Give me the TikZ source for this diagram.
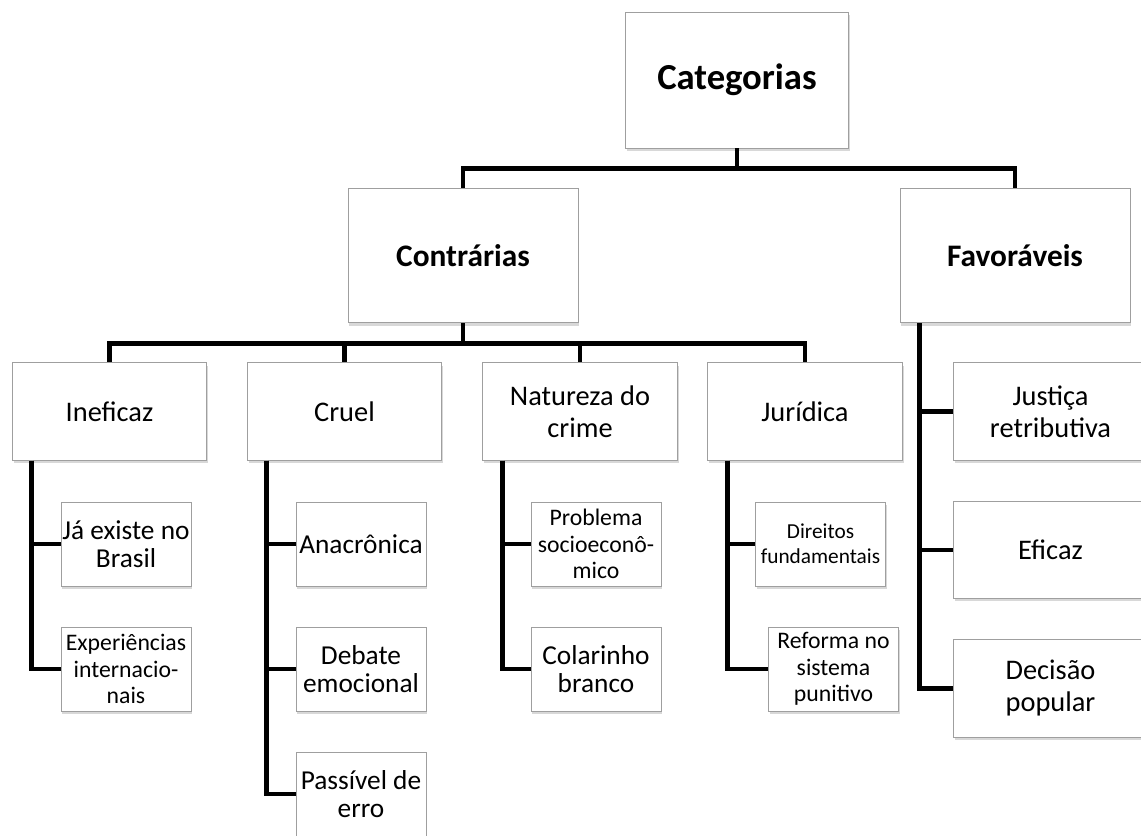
\documentclass[tikz,border=0pt]{standalone}
\usepackage{fontspec}
\setmainfont{Carlito}
\usetikzlibrary{positioning, shadows}

\tikzset{
  box/.style={draw=gray!75, line width=0.6pt, fill=white, inner sep=0pt, align=center,
    drop shadow={shadow xshift=1pt, shadow yshift=-2pt, opacity=0.3, fill=gray}},
  lvltop/.style={box, minimum width=167pt, minimum height=102pt,
    font=\fontsize{27.5}{30}\selectfont\bfseries},
  lvlone/.style={box, minimum width=172.5pt, minimum height=101pt,
    font=\fontsize{23.5}{26}\selectfont\bfseries},
  lvltwo/.style={box, minimum width=146pt, minimum height=73pt,
    font=\fontsize{21.3}{24}\selectfont},
  leaf/.style={box, minimum width=97.5pt, minimum height=63pt,
    font=\fontsize{20.5}{21.3}\selectfont},
  smallleaf/.style={leaf, font=\fontsize{17.8}{20}\selectfont},
  conn/.style={line width=3.6pt}
}

\begin{document}
\begin{tikzpicture}[x=0.75pt, y=-0.75pt]
\useasboundingbox (0,0) rectangle (1141,835);
\clip (0,0) rectangle (1141,835);
\fill[white] (0,0) rectangle (1141,835);

% top and first level
\node[lvltop] (cat) at (737,80) {Categorias};
\node[lvlone] (contra) at (463,255.5) {Contrárias};
\node[lvlone] (fav) at (1015,255.5) {Favoráveis};

% second level
\node[lvltwo] (inef) at (109.5,411.5) {Ineficaz};
\node[lvltwo] (cruel) at (344.5,411.5) {Cruel};
\node[lvltwo] (natur) at (580,411.5) {Natureza do\\crime};
\node[lvltwo] (jurid) at (805,411.5) {Jurídica};
\node[lvltwo] (just) at (1050.5,411.5) {Justiça\\retributiva};
\node[lvltwo] (efic) at (1050.5,550) {Eficaz};
\node[lvltwo] (decis) at (1050.5,688.5) {Decisão\\popular};

% leaves
\node[leaf] (jaex) at (126,544) {Já existe no\\Brasil};
\node[smallleaf] (exper) at (126,669) {Experiências\\internacio-\\nais};
\node[leaf] (anac) at (361,544) {Anacrônica};
\node[leaf] (debate) at (361,669) {Debate\\emocional};
\node[leaf] (passiv) at (361,794) {Passível de\\erro};
\node[smallleaf] (probl) at (596,544) {Problema\\socioeconô-\\mico};
\node[leaf] (colar) at (596,669) {Colarinho\\branco};
\node[smallleaf, font=\fontsize{16}{19}\selectfont] (direit) at (820.5,544) {Direitos\\fundamentais};
\node[smallleaf] (reform) at (833.5,669) {Reforma no\\sistema\\punitivo};

% connectors
\draw[conn] (cat.south) -- ++(0,20) -| (contra.north);
\draw[conn] (cat.south) -- ++(0,20) -| (fav.north);

\draw[conn] (contra.south) -- ++(0,20) -| (inef.north);
\draw[conn] (contra.south) -- ++(0,20) -| (cruel.north);
\draw[conn] (contra.south) -- ++(0,20) -| (natur.north);
\draw[conn] (contra.south) -- ++(0,20) -| (jurid.north);

\draw[conn] ([xshift=15pt]inef.south west) |- (jaex.west);
\draw[conn] ([xshift=15pt]inef.south west) |- (exper.west);

\draw[conn] ([xshift=15pt]cruel.south west) |- (anac.west);
\draw[conn] ([xshift=15pt]cruel.south west) |- (debate.west);
\draw[conn] ([xshift=15pt]cruel.south west) |- (passiv.west);

\draw[conn] ([xshift=15pt]natur.south west) |- (probl.west);
\draw[conn] ([xshift=15pt]natur.south west) |- (colar.west);

\draw[conn] ([xshift=15pt]jurid.south west) |- (direit.west);
\draw[conn] ([xshift=15pt]jurid.south west) |- (reform.west);

\draw[conn] ([xshift=15pt]fav.south west) |- (just.west);
\draw[conn] ([xshift=15pt]fav.south west) |- (efic.west);
\draw[conn] ([xshift=15pt]fav.south west) |- (decis.west);
\end{tikzpicture}
\end{document}
